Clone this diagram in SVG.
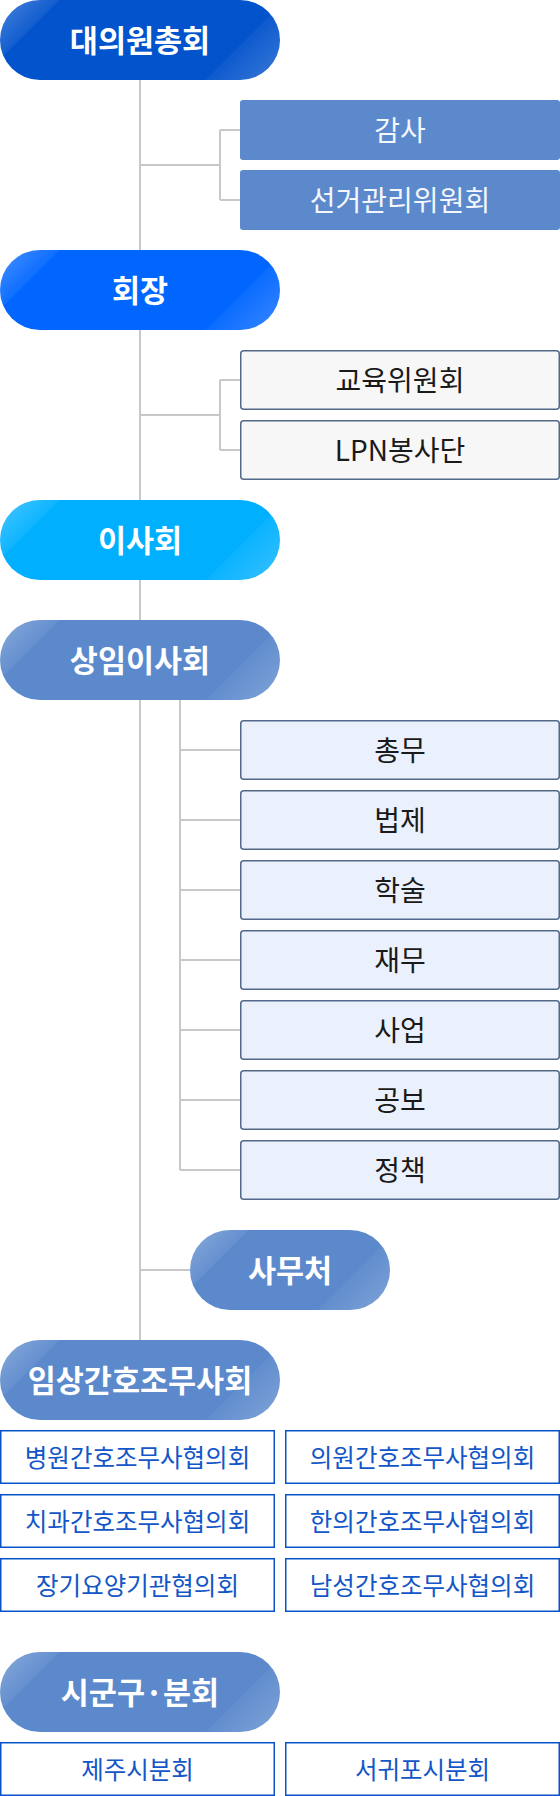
<svg xmlns="http://www.w3.org/2000/svg" width="560" height="1796" viewBox="0 0 560 1796">
<defs>
<linearGradient id="shine" gradientUnits="userSpaceOnUse" x1="0" y1="0" x2="180" y2="180">
<stop offset="0" stop-color="#fff" stop-opacity="0.28"/>
<stop offset="0.164" stop-color="#fff" stop-opacity="0.06"/>
<stop offset="0.165" stop-color="#fff" stop-opacity="0"/>
<stop offset="0.793" stop-color="#fff" stop-opacity="0"/>
<stop offset="0.794" stop-color="#fff" stop-opacity="0.04"/>
<stop offset="1" stop-color="#fff" stop-opacity="0.22"/>
</linearGradient>
<linearGradient id="shine2" gradientUnits="userSpaceOnUse" x1="0" y1="0" x2="140" y2="140">
<stop offset="0" stop-color="#fff" stop-opacity="0.28"/>
<stop offset="0.21" stop-color="#fff" stop-opacity="0.06"/>
<stop offset="0.211" stop-color="#fff" stop-opacity="0"/>
<stop offset="0.74" stop-color="#fff" stop-opacity="0"/>
<stop offset="0.741" stop-color="#fff" stop-opacity="0.04"/>
<stop offset="1" stop-color="#fff" stop-opacity="0.22"/>
</linearGradient>
</defs>
<style>
text{font-family:"Noto Sans CJK KR","Noto Sans",sans-serif;text-anchor:middle}
.pt{fill:#fff;font-size:30.5px;font-weight:700}
.bt{font-size:28px;font-weight:400;fill:#1a1a1a}
.wt{fill:#f4f7fc}
.gt{font-size:24.5px;font-weight:400;fill:#1356c8}
.conn{stroke:#c8c8c8;stroke-width:2;fill:none}
.b1{fill:#5b89cc}
.b2{fill:#f7f7f7;stroke:#52698a;stroke-width:1.5}
.b3{fill:#eaf1fd;stroke:#52698a;stroke-width:1.5}
.g{fill:#fff;stroke:#0a52c8;stroke-width:1.5}
</style>
<g id="connectors" class="conn">
<path d="M140 80V1340"/>
<path d="M140 165H220M220 130V200M220 130H240M220 200H240"/>
<path d="M140 415H220M220 380V450M220 380H240M220 450H240"/>
<path d="M180 700V1170M180 750H240M180 820H240M180 890H240M180 960H240M180 1030H240M180 1100H240M180 1170H240"/>
<path d="M140 1270H190"/>
</g>
<g id="n-daeui" transform="translate(0,0)">
<rect width="280" height="80" rx="40" fill="#0353cc"/>
<rect width="280" height="80" rx="40" fill="url(#shine)"/>
<text class="pt" x="140" y="51.5">대의원총회</text>
</g>
<g id="n-gamsa">
<rect class="b1" x="240" y="100" width="320" height="60" rx="3"/>
<text class="bt wt" x="400" y="140.5">감사</text>
</g>
<g id="n-seongeo">
<rect class="b1" x="240" y="170" width="320" height="60" rx="3"/>
<text class="bt wt" x="400" y="210.5">선거관리위원회</text>
</g>
<g id="n-hoejang" transform="translate(0,250)">
<rect width="280" height="80" rx="40" fill="#0066ff"/>
<rect width="280" height="80" rx="40" fill="url(#shine)"/>
<text class="pt" x="140" y="51.5">회장</text>
</g>
<g id="n-edu">
<rect class="b2" x="240.75" y="350.75" width="318.5" height="58.5" rx="3"/>
<text class="bt" x="400" y="390.5">교육위원회</text>
</g>
<g id="n-lpn">
<rect class="b2" x="240.75" y="420.75" width="318.5" height="58.5" rx="3"/>
<text class="bt" x="400" y="460.5">LPN봉사단</text>
</g>
<g id="n-isa" transform="translate(0,500)">
<rect width="280" height="80" rx="40" fill="#00b0ff"/>
<rect width="280" height="80" rx="40" fill="url(#shine)"/>
<text class="pt" x="140" y="51.5">이사회</text>
</g>
<g id="n-sangim" transform="translate(0,620)">
<rect width="280" height="80" rx="40" fill="#5b89cc"/>
<rect width="280" height="80" rx="40" fill="url(#shine)"/>
<text class="pt" x="140" y="51.5">상임이사회</text>
</g>
<g id="n-chongmu"><rect class="b3" x="240.75" y="720.75" width="318.5" height="58.5" rx="3"/><text class="bt" x="400" y="760.5">총무</text></g>
<g id="n-beopje"><rect class="b3" x="240.75" y="790.75" width="318.5" height="58.5" rx="3"/><text class="bt" x="400" y="830.5">법제</text></g>
<g id="n-haksul"><rect class="b3" x="240.75" y="860.75" width="318.5" height="58.5" rx="3"/><text class="bt" x="400" y="900.5">학술</text></g>
<g id="n-jaemu"><rect class="b3" x="240.75" y="930.75" width="318.5" height="58.5" rx="3"/><text class="bt" x="400" y="970.5">재무</text></g>
<g id="n-saeop"><rect class="b3" x="240.75" y="1000.75" width="318.5" height="58.5" rx="3"/><text class="bt" x="400" y="1040.5">사업</text></g>
<g id="n-gongbo"><rect class="b3" x="240.75" y="1070.75" width="318.5" height="58.5" rx="3"/><text class="bt" x="400" y="1110.5">공보</text></g>
<g id="n-jeongchaek"><rect class="b3" x="240.75" y="1140.75" width="318.5" height="58.5" rx="3"/><text class="bt" x="400" y="1180.5">정책</text></g>
<g id="n-samucheo" transform="translate(190,1230)">
<rect width="200" height="80" rx="40" fill="#5b89cc"/>
<rect width="200" height="80" rx="40" fill="url(#shine2)"/>
<text class="pt" x="100" y="51.5">사무처</text>
</g>
<g id="n-imsang" transform="translate(0,1340)">
<rect width="280" height="80" rx="40" fill="#5b89cc"/>
<rect width="280" height="80" rx="40" fill="url(#shine)"/>
<text class="pt" x="140" y="51.5">임상간호조무사회</text>
</g>
<g id="n-byeongwon"><rect class="g" x="0.75" y="1430.75" width="273.5" height="52.5"/><text class="gt" x="137.5" y="1466.5">병원간호조무사협의회</text></g>
<g id="n-uiwon"><rect class="g" x="285.75" y="1430.75" width="273.5" height="52.5"/><text class="gt" x="422.5" y="1466.5">의원간호조무사협의회</text></g>
<g id="n-chigwa"><rect class="g" x="0.75" y="1494.75" width="273.5" height="52.5"/><text class="gt" x="137.5" y="1530.5">치과간호조무사협의회</text></g>
<g id="n-hanui"><rect class="g" x="285.75" y="1494.75" width="273.5" height="52.5"/><text class="gt" x="422.5" y="1530.5">한의간호조무사협의회</text></g>
<g id="n-janggi"><rect class="g" x="0.75" y="1558.75" width="273.5" height="52.5"/><text class="gt" x="137.5" y="1594.5">장기요양기관협의회</text></g>
<g id="n-namseong"><rect class="g" x="285.75" y="1558.75" width="273.5" height="52.5"/><text class="gt" x="422.5" y="1594.5">남성간호조무사협의회</text></g>
<g id="n-sigungu" transform="translate(0,1652)">
<rect width="280" height="80" rx="40" fill="#5b89cc"/>
<rect width="280" height="80" rx="40" fill="url(#shine)"/>
<text class="pt" x="140" y="51.5">시군구·분회</text>
</g>
<g id="n-jeju"><rect class="g" x="0.75" y="1742.75" width="273.5" height="52.5"/><text class="gt" x="137.5" y="1778.5">제주시분회</text></g>
<g id="n-seogwipo"><rect class="g" x="285.75" y="1742.75" width="273.5" height="52.5"/><text class="gt" x="422.5" y="1778.5">서귀포시분회</text></g>
</svg>
